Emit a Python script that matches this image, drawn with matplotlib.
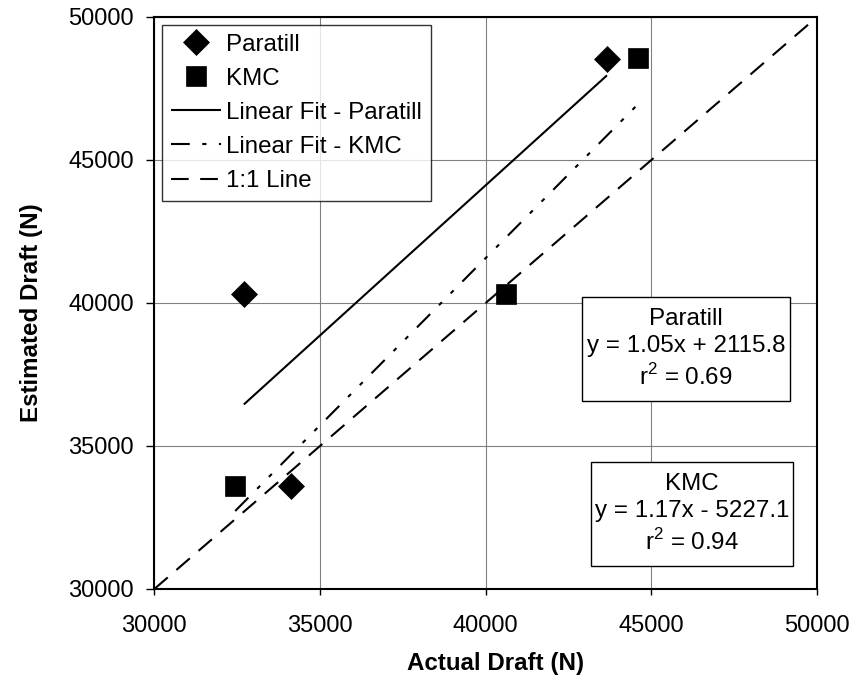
import matplotlib
matplotlib.use("Agg")
import matplotlib.pyplot as plt
from matplotlib.patches import Rectangle
import numpy as np

plt.rcParams['font.family'] = ['Liberation Sans', 'DejaVu Sans']
plt.rcParams['mathtext.fontset'] = 'custom'
plt.rcParams['mathtext.rm'] = 'Liberation Sans'

# Data
paratill_actual = [32700, 34130, 43660]
paratill_est = [40330, 33600, 48530]
kmc_actual = [32440, 40600, 44590]
kmc_est = [33610, 40330, 48550]
fit_paratill = [1.05, 2115.8]
fit_kmc = [1.17, -5227.1]
r2_paratill = 0.69
r2_kmc = 0.94
one_to_one = [30000, 50000]
x_ticks = [30000, 35000, 40000, 45000, 50000]
y_ticks = [30000, 35000, 40000, 45000, 50000]

fig = plt.figure(figsize=(8.56, 6.82), dpi=100)
ax = fig.add_axes([0.1803, 0.1364, 0.7742, 0.8387])

fs = 17
fs2 = 17.4

ax.plot(paratill_actual, paratill_est, linestyle='none', marker='D', ms=12.8,
        color='black', mew=0.5, label='Paratill', zorder=5)
ax.plot(kmc_actual, kmc_est, linestyle='none', marker='s', ms=14.2,
        color='black', mew=0.5, label='KMC', zorder=5)

xp = np.array([min(paratill_actual), max(paratill_actual)])
ax.plot(xp, fit_paratill[0] * xp + fit_paratill[1], color='black', lw=1.5,
        solid_capstyle='butt', label='Linear Fit - Paratill', zorder=4)
xk = np.array([min(kmc_actual), max(kmc_actual)])
ax.plot(xk, fit_kmc[0] * xk + fit_kmc[1], color='black', lw=1.5,
        linestyle=(0, (9, 6, 2, 6, 2, 6)), label='Linear Fit - KMC', zorder=4)
ax.plot(one_to_one, one_to_one, color='black', lw=1.5,
        linestyle=(0, (8.5, 5.5)), label='1:1 Line', zorder=4)

ax.set_xlim(30000, 50000)
ax.set_ylim(30000, 50000)
ax.set_xticks(x_ticks)
ax.set_yticks(y_ticks)
ax.grid(True, color='#808080', lw=0.8, zorder=0)
ax.set_axisbelow(True)
for s in ax.spines.values():
    s.set_linewidth(1.5)
    s.set_color('black')
ax.tick_params(axis='x', direction='out', length=4.5, width=1, labelsize=fs,
               pad=14, color='black')
ax.tick_params(axis='y', direction='out', length=5.5, width=1, labelsize=fs,
               pad=9, color='black')

ax.set_xlabel('Actual Draft (N)', fontsize=fs2, fontweight='bold', labelpad=11)
ax.set_ylabel('Estimated Draft (N)', fontsize=fs2, fontweight='bold', labelpad=18.5)
ax.xaxis.label.set_x(0.515)
ax.yaxis.label.set_y(0.484)

leg = ax.legend(loc='upper left', bbox_to_anchor=(0.0116, 0.986), borderaxespad=0,
                fontsize=fs2, frameon=True, fancybox=False, handlelength=2.1,
                handletextpad=0.2, labelspacing=0.5, borderpad=0.36,
                numpoints=1)
leg.get_frame().set_edgecolor('black')
leg.get_frame().set_linewidth(1.0)

def eq_text(name, fit, r2):
    sign = '+' if fit[1] >= 0 else '-'
    return (f"{name}\ny = {fit[0]:.2f}x {sign} {abs(fit[1]):.1f}\n"
            f"r$^{{\\mathregular{{2}}}}$ = {r2:.2f}")

# text boxes (axes-fraction layout)
boxes = [((0.6454, 0.3287), 0.3139, 0.1818, eq_text('Paratill', fit_paratill, r2_paratill)),
         ((0.6590, 0.0402), 0.3046, 0.1818, eq_text('KMC', fit_kmc, r2_kmc))]
for (x0, y0), w, h, txt in boxes:
    ax.add_patch(Rectangle((x0, y0), w, h, transform=ax.transAxes, facecolor='white',
                           edgecolor='black', lw=1.0, zorder=6))
    ax.text(x0 + w / 2, y0 + h / 2, txt, transform=ax.transAxes, ha='center',
            va='center', fontsize=fs2, linespacing=1.34, zorder=7)

fig.savefig('out.png', dpi=100)
